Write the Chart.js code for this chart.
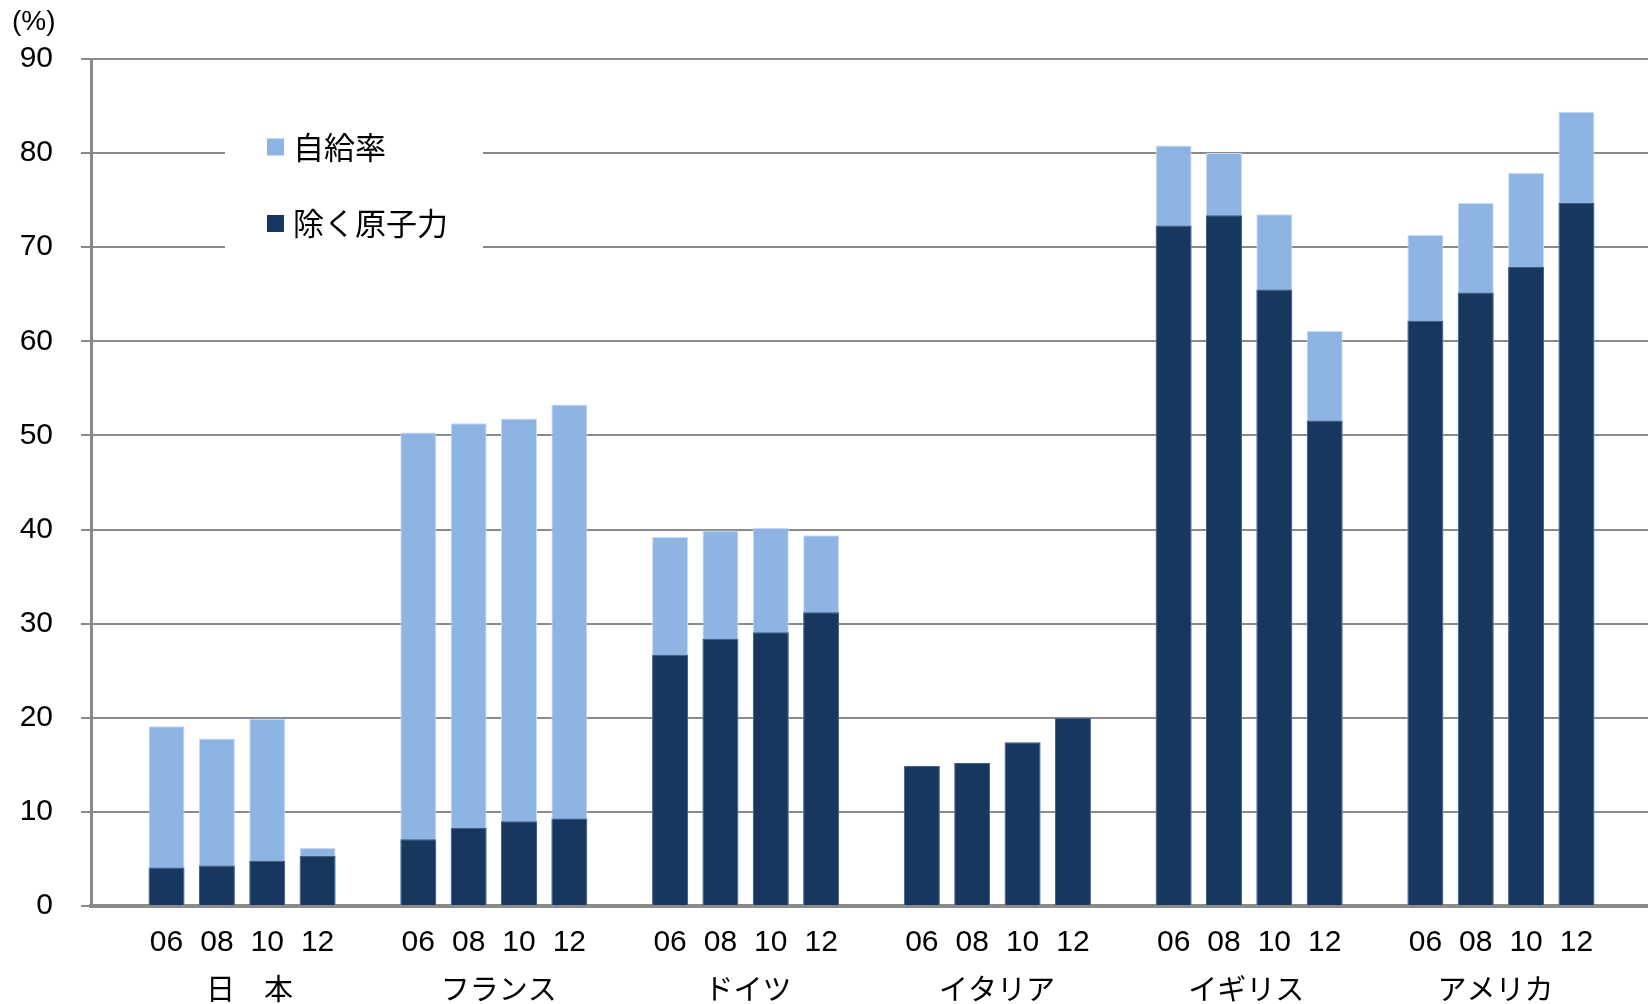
<!DOCTYPE html>
<html>
<head>
<meta charset="utf-8">
<script src="https://cdn.jsdelivr.net/npm/chart.js@4/dist/chart.umd.min.js"></script>
<style>
  html, body { margin: 0; padding: 0; background: #ffffff; overflow: hidden; }
  #wrap { width: 1648px; height: 1004px; position: relative; overflow: hidden; }
  #c { display: block; }
</style>
</head>
<body>
<div id="wrap"><canvas id="c" width="1652" height="1004"></canvas></div>
<script>
// Countries and survey years (2006–2012, every two years)
const countries = ['日　本', 'フランス', 'ドイツ', 'イタリア', 'イギリス', 'アメリカ'];
const years = ['06', '08', '10', '12'];

// Energy self-sufficiency rate (%), including nuclear — 4 years per country
const selfSufficiencyRate = [
  19.1, 17.8, 19.9, 6.2,    // 日本
  50.3, 51.3, 51.8, 53.3,   // フランス
  39.2, 39.9, 40.2, 39.4,   // ドイツ
  14.9, 15.2, 17.4, 20.0,   // イタリア
  80.8, 80.0, 73.5, 61.1,   // イギリス
  71.3, 74.7, 77.9, 84.4    // アメリカ
];

// Self-sufficiency rate excluding nuclear (%)
const excludingNuclear = [
  4.1, 4.3, 4.8, 5.3,
  7.1, 8.3, 9.0, 9.3,
  26.7, 28.4, 29.1, 31.2,
  14.9, 15.2, 17.4, 20.0,
  72.3, 73.4, 65.5, 51.6,
  62.2, 65.2, 67.9, 74.7
];

const yTicks = [0, 10, 20, 30, 40, 50, 60, 70, 80, 90];

const LIGHT = '#8EB4E3';
const DARK = '#17375E';
const GRID = '#8a8a8a';
const NUM_FONT = '"Liberation Sans", Arial, sans-serif';
const JP_FONT = '"Noto Sans CJK JP", "Noto Sans", sans-serif';

// One slot per bar, with an empty slot before the first group and after each group
const slotLabels = [''];
const totalSlots = [null];
const exSlots = [null];
const groupCenters = [];
countries.forEach((c, ci) => {
  const start = slotLabels.length;
  years.forEach((y, yi) => {
    slotLabels.push(y);
    totalSlots.push(selfSufficiencyRate[ci * years.length + yi]);
    exSlots.push(excludingNuclear[ci * years.length + yi]);
  });
  groupCenters.push(start + (years.length - 1) / 2);
  slotLabels.push('');
  totalSlots.push(null);
  exSlots.push(null);
});

// Legend drawn inside the plot area on a white panel, plus the unit label
const insideLegend = {
  id: 'insideLegend',
  afterDraw(chart) {
    const ctx = chart.ctx;
    ctx.save();
    ctx.fillStyle = '#ffffff';
    ctx.fillRect(225, 104, 258, 180);
    const rows = [
      { ds: chart.data.datasets[0], y: 147 },
      { ds: chart.data.datasets[1], y: 223.5 }
    ];
    ctx.font = '31px ' + JP_FONT;
    ctx.textBaseline = 'middle';
    ctx.textAlign = 'left';
    rows.forEach(r => {
      ctx.fillStyle = r.ds.backgroundColor;
      ctx.fillRect(267, r.y - 8.5, 17, 17);
      ctx.fillStyle = '#000000';
      ctx.fillText(r.ds.label, 293, r.y);
    });
    ctx.font = '28px ' + NUM_FONT;
    ctx.textBaseline = 'middle';
    ctx.fillText('(%)', 12, 22);
    ctx.restore();
  }
};

new Chart(document.getElementById('c'), {
  type: 'bar',
  data: {
    labels: slotLabels,
    datasets: [
      {
        label: '自給率',
        data: totalSlots,
        backgroundColor: LIGHT,
        borderColor: '#c9dcf3',
        borderWidth: 1,
        order: 1,
        grouped: false,
        barPercentage: 0.715,
        categoryPercentage: 1,
        xAxisID: 'x',
        yAxisID: 'y'
      },
      {
        label: '除く原子力',
        data: exSlots,
        backgroundColor: DARK,
        borderColor: '#415f86',
        borderWidth: 1,
        order: 0,
        grouped: false,
        barPercentage: 0.715,
        categoryPercentage: 1,
        xAxisID: 'x',
        yAxisID: 'y'
      }
    ]
  },
  options: {
    responsive: false,
    animation: false,
    devicePixelRatio: 1,
    layout: { padding: { top: 59, right: 0, left: 0, bottom: 0 } },
    plugins: {
      legend: { display: false },
      tooltip: { enabled: false },
      title: { display: false }
    },
    scales: {
      x: {
        type: 'category',
        position: 'bottom',
        weight: 0,
        offset: true,
        grid: { display: false },
        border: { display: true, color: GRID, width: 4 },
        ticks: {
          autoSkip: false,
          maxRotation: 0,
          color: '#000000',
          padding: 11,
          font: { family: NUM_FONT, size: 30 }
        },
        afterFit(scale) { scale.height = 54; }
      },
      // country names, centred under each group of four bars
      x2: {
        type: 'linear',
        position: 'bottom',
        weight: 1,
        offset: false,
        min: -0.68,
        max: 30.64,
        grid: { display: false, offset: false },
        border: { display: false },
        afterBuildTicks(scale) {
          scale.ticks = groupCenters.map(v => ({ value: v }));
        },
        ticks: {
          autoSkip: false,
          maxRotation: 0,
          color: '#000000',
          padding: 4,
          font: { family: JP_FONT, size: 29 },
          callback(value) {
            const i = groupCenters.indexOf(value);
            return i >= 0 ? countries[i] : '';
          }
        },
        afterFit(scale) { scale.height = 44; }
      },
      y: {
        type: 'linear',
        min: yTicks[0],
        max: yTicks[yTicks.length - 1],
        afterBuildTicks(scale) {
          scale.ticks = yTicks.map(v => ({ value: v }));
        },
        grid: { color: GRID, lineWidth: 2, drawTicks: true, tickLength: 10, tickColor: GRID, tickWidth: 2 },
        border: { display: true, color: GRID, width: 3 },
        ticks: {
          color: '#000000',
          padding: 28,
          font: { family: NUM_FONT, size: 30 }
        },
        afterFit(scale) { scale.width = 91; }
      }
    }
  },
  plugins: [insideLegend]
});
</script>
</body>
</html>
